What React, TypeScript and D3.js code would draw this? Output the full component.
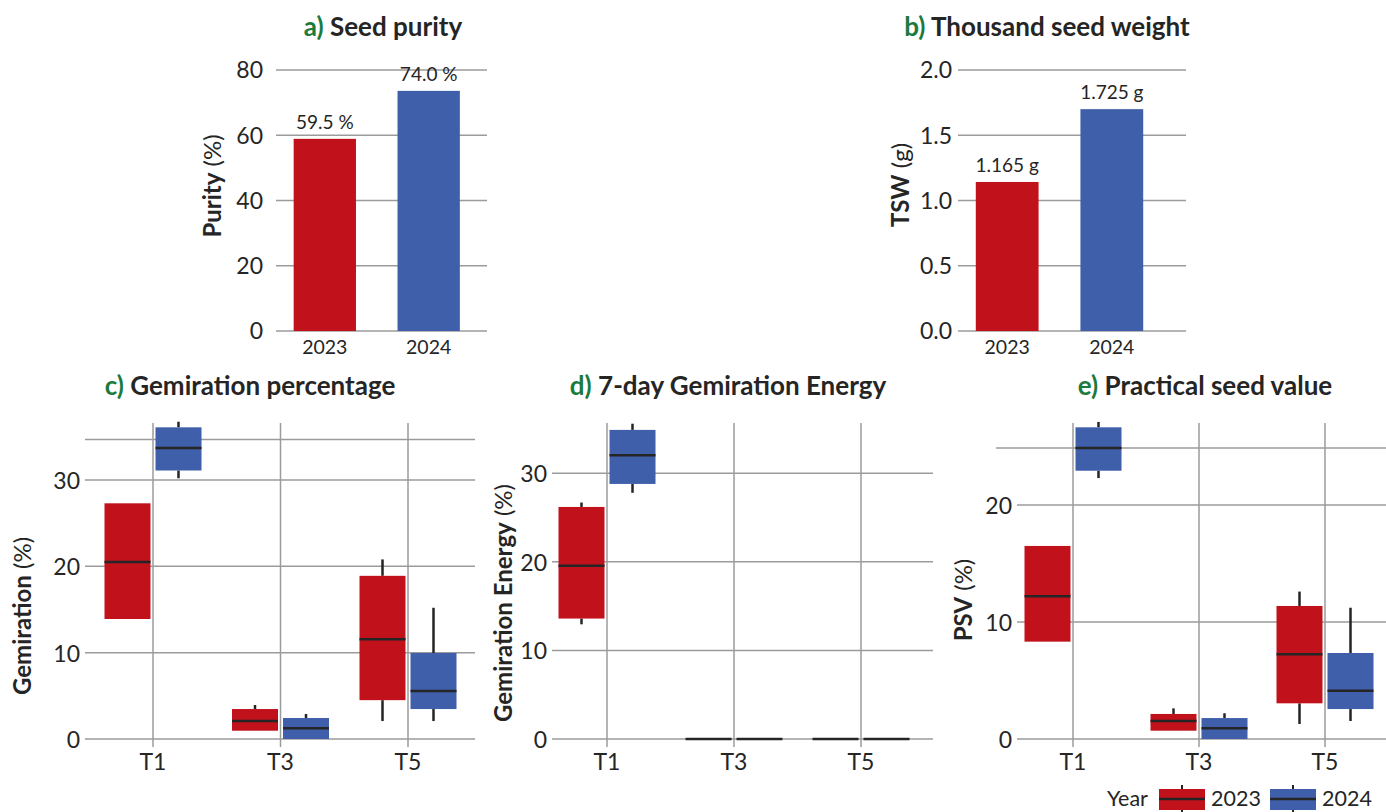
import React from "react";
import * as d3 from "d3";

const W = 1386;
const H = 812;
const RED = "#C1121C";
const BLUE = "#3F5FAA";
const GRID = "#9b9b9b";
const DARK = "#252525";
const GREEN = "#1B7A3E";
const FONT = "Lato, 'Open Sans', sans-serif";

// ---- Data ----
const years = ["2023", "2024"];
const purityValues = [58.9, 73.6];
const purityLabels = ["59.5 %", "74.0 %"];
const purityTicks = [0, 20, 40, 60, 80];
const tswValues = [1.142, 1.7];
const tswLabels = ["1.165 g", "1.725 g"];
const tswTicks = [0, 0.5, 1.0, 1.5, 2.0];

const treatments = ["T1", "T3", "T5"];
// box stats: [whiskerLow, q1, median, q3, whiskerHigh] per treatment
const germ2023 = [
  [13.9, 13.9, 20.5, 27.3, 27.3],
  [0.96, 0.96, 2.08, 3.47, 3.94],
  [2.08, 4.5, 11.55, 18.9, 20.8],
];
const germ2024 = [
  [30.2, 31.1, 33.7, 36.1, 36.75],
  [0, 0, 1.24, 2.43, 2.9],
  [2.08, 3.47, 5.56, 9.96, 15.2],
];
const energy2023 = [
  [12.95, 13.6, 19.56, 26.2, 26.7],
  [0, 0, 0, 0, 0],
  [0, 0, 0, 0, 0],
];
const energy2024 = [
  [27.8, 28.8, 32.05, 34.9, 35.6],
  [0, 0, 0, 0, 0],
  [0, 0, 0, 0, 0],
];
const psv2023 = [
  [8.32, 8.32, 12.2, 16.5, 16.5],
  [0.71, 0.71, 1.54, 2.14, 2.62],
  [1.28, 3.05, 7.24, 11.37, 12.6],
];
const psv2024 = [
  [22.3, 22.93, 24.87, 26.64, 27.1],
  [0, 0, 0.91, 1.79, 2.2],
  [1.54, 2.56, 4.13, 7.35, 11.22],
];
const germTicks = [0, 10, 20, 30];
const energyTicks = [0, 10, 20, 30];
const psvTicks = [0, 10, 20];

const TITLE_SIZE = 26;
const TICK_SIZE = 23;
const AXIS_TITLE_SIZE = 24;

type BarPanelProps = {
  title: [string, string];
  titleX: number;
  yTitle: [string, string];
  yTitleX: number;
  yTitleY: number;
  values: number[];
  labels: string[];
  ticks: number[];
  fmt: (v: number) => string;
  yDomain: [number, number];
  gridL: number;
  gridR: number;
  bandL: number;
  bandR: number;
  tickGap: number;
};

function BarPanel(p: BarPanelProps) {
  const y = d3.scaleLinear().domain(p.yDomain).range([331, 70]);
  const x = d3
    .scaleBand<string>()
    .domain(years)
    .range([p.bandL, p.bandR])
    .paddingInner(0.4)
    .paddingOuter(0.17);
  const cols = [RED, BLUE];
  return (
    <g>
      <text x={p.titleX} y={36} textAnchor="middle" fontSize={TITLE_SIZE} fontWeight="bold" fill={DARK}>
        <tspan fill={GREEN}>{p.title[0]}</tspan>
        <tspan> {p.title[1]}</tspan>
      </text>
      {p.ticks.map((t) => (
        <g key={t}>
          <line x1={p.gridL} x2={p.gridR} y1={y(t)} y2={y(t)} stroke={GRID} strokeWidth={1.5} />
          <text x={p.gridL - p.tickGap} y={y(t) + 8.3} textAnchor="end" fontSize={TICK_SIZE} fill={DARK}>
            {p.fmt(t)}
          </text>
        </g>
      ))}
      {years.map((yr, i) => (
        <g key={yr}>
          <rect
            x={x(yr)!}
            width={x.bandwidth()}
            y={y(p.values[i])}
            height={y(0) - y(p.values[i])}
            fill={cols[i]}
          />
          <text
            x={x(yr)! + x.bandwidth() / 2}
            y={y(p.values[i]) - 10}
            textAnchor="middle"
            fontSize={19}
            fill={DARK}
          >
            {p.labels[i]}
          </text>
          <text x={x(yr)! + x.bandwidth() / 2} y={354} textAnchor="middle" fontSize={19.5} fill={DARK}>
            {yr}
          </text>
        </g>
      ))}
      <text
        transform={`translate(${p.yTitleX},${p.yTitleY}) rotate(-90)`}
        textAnchor="middle"
        fontSize={AXIS_TITLE_SIZE}
        fill={DARK}
      >
        <tspan fontWeight="bold">{p.yTitle[0]}</tspan>
        <tspan> {p.yTitle[1]}</tspan>
      </text>
    </g>
  );
}

type BoxPanelProps = {
  title: [string, string];
  titleX: number;
  yTitle: [string, string];
  yTitleX: number;
  yTitleY: number;
  s2023: number[][];
  s2024: number[][];
  ticks: number[];
  topVal: number;
  topY: number;
  gridL: number;
  gridR: number;
  t1x: number;
  t5x: number;
  refLine?: number;
  refL?: number;
};

function BoxPanel(p: BoxPanelProps) {
  const y = d3.scaleLinear().domain([0, p.topVal]).range([739, p.topY]);
  const x = d3.scalePoint<string>().domain(treatments).range([p.t1x, p.t5x]);
  const BW = 46;
  const GAP = 2.5;
  const renderBox = (s: number[], cx: number, fill: string, key: string) => {
    const [lo, q1, med, q3, hi] = s;
    const mid = cx + BW / 2;
    return (
      <g key={key}>
        <line x1={mid} x2={mid} y1={y(hi)} y2={y(q3)} stroke={DARK} strokeWidth={2.5} />
        <line x1={mid} x2={mid} y1={y(q1)} y2={y(lo)} stroke={DARK} strokeWidth={2.5} />
        <rect x={cx} width={BW} y={y(q3)} height={y(q1) - y(q3)} fill={fill} />
        <line x1={cx} x2={cx + BW} y1={y(med)} y2={y(med)} stroke={DARK} strokeWidth={2.5} />
      </g>
    );
  };
  return (
    <g>
      <text x={p.titleX} y={395} textAnchor="middle" fontSize={TITLE_SIZE} fontWeight="bold" fill={DARK}>
        <tspan fill={GREEN}>{p.title[0]}</tspan>
        <tspan> {p.title[1]}</tspan>
      </text>
      {p.ticks.map((t) => (
        <g key={t}>
          <line x1={p.gridL} x2={p.gridR} y1={y(t)} y2={y(t)} stroke={GRID} strokeWidth={1.5} />
          <text x={p.gridL - 5} y={y(t) + 9} textAnchor="end" fontSize={TICK_SIZE} fill={DARK}>
            {t}
          </text>
        </g>
      ))}
      {p.refLine !== undefined && (
        <line
          x1={p.refL ?? p.gridL}
          x2={p.gridR}
          y1={y(p.refLine)}
          y2={y(p.refLine)}
          stroke={GRID}
          strokeWidth={1.5}
        />
      )}
      {treatments.map((t) => (
        <g key={t}>
          <line x1={x(t)!} x2={x(t)!} y1={423} y2={747} stroke={GRID} strokeWidth={1.5} />
          <text x={x(t)!} y={770} textAnchor="middle" fontSize={TICK_SIZE} fill={DARK}>
            {t}
          </text>
        </g>
      ))}
      {treatments.map((t, i) =>
        renderBox(p.s2023[i], x(t)! - GAP - BW, RED, "a" + t)
      )}
      {treatments.map((t, i) => renderBox(p.s2024[i], x(t)! + GAP, BLUE, "b" + t))}
      <text
        transform={`translate(${p.yTitleX},${p.yTitleY}) rotate(-90)`}
        textAnchor="middle"
        fontSize={AXIS_TITLE_SIZE}
        fill={DARK}
      >
        <tspan fontWeight="bold">{p.yTitle[0]}</tspan>
        <tspan> {p.yTitle[1]}</tspan>
      </text>
    </g>
  );
}

function Legend() {
  const items = [
    { label: "2023", fill: RED, x: 1159, tx: 1211 },
    { label: "2024", fill: BLUE, x: 1270, tx: 1322 },
  ];
  return (
    <g>
      <text x={1107} y={806} fontSize={21.5} fill={DARK}>
        Year
      </text>
      {items.map((it) => (
        <g key={it.label}>
          <line x1={it.x + 23} x2={it.x + 23} y1={785} y2={812} stroke={DARK} strokeWidth={2} />
          <rect x={it.x} y={789} width={46} height={21} fill={it.fill} />
          <line x1={it.x} x2={it.x + 46} y1={799} y2={799} stroke={DARK} strokeWidth={2.5} />
          <text x={it.tx} y={806} fontSize={21.5} fill={DARK}>
            {it.label}
          </text>
        </g>
      ))}
    </g>
  );
}

export default function App() {
  return (
    <svg
      width={W}
      height={H}
      style={{ position: "absolute", left: 0, top: 0, background: "#fff" }}
      fontFamily={FONT}
    >
      <BarPanel
        title={["a)", "Seed purity"]}
        titleX={383}
        yTitle={["Purity", "(%)"]}
        yTitleX={221}
        yTitleY={186}
        values={purityValues}
        labels={purityLabels}
        ticks={purityTicks}
        fmt={(v) => String(v)}
        yDomain={[0, 80]}
        gridL={276}
        gridR={487}
        bandL={276}
        bandR={477.5}
        tickGap={13}
      />
      <BarPanel
        title={["b)", "Thousand seed weight"]}
        titleX={1047}
        yTitle={["TSW", "(g)"]}
        yTitleX={909}
        yTitleY={185}
        values={tswValues}
        labels={tswLabels}
        ticks={tswTicks}
        fmt={d3.format(".1f")}
        yDomain={[0, 2]}
        gridL={958}
        gridR={1186}
        bandL={958}
        bandR={1161}
        tickGap={6}
      />
      <BoxPanel
        title={["c)", "Gemiration percentage"]}
        titleX={250}
        yTitle={["Gemiration", "(%)"]}
        yTitleX={31}
        yTitleY={616}
        s2023={germ2023}
        s2024={germ2024}
        ticks={germTicks}
        topVal={30}
        topY={480}
        gridL={85}
        gridR={475}
        t1x={153}
        t5x={408}
        refLine={34.7}
      />
      <BoxPanel
        title={["d)", "7-day Gemiration Energy"]}
        titleX={728}
        yTitle={["Gemiration Energy", "(%)"]}
        yTitleX={512}
        yTitleY={603}
        s2023={energy2023}
        s2024={energy2024}
        ticks={energyTicks}
        topVal={30}
        topY={473.3}
        gridL={552}
        gridR={933}
        t1x={607}
        t5x={861}
      />
      <BoxPanel
        title={["e)", "Practical seed value"]}
        titleX={1205}
        yTitle={["PSV", "(%)"]}
        yTitleX={972}
        yTitleY={600}
        s2023={psv2023}
        s2024={psv2024}
        ticks={psvTicks}
        topVal={20}
        topY={505}
        gridL={1017}
        gridR={1386}
        t1x={1073}
        t5x={1325}
        refLine={24.87}
        refL={996}
      />
      <Legend />
    </svg>
  );
}
